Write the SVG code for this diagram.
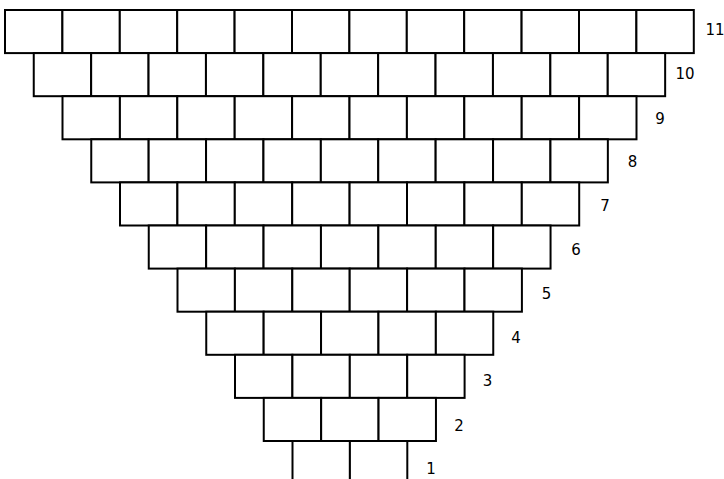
<svg xmlns="http://www.w3.org/2000/svg" width="724" height="479" viewBox="0 0 724 479">
<style>
.b{fill:#fff;stroke:#000;stroke-width:2}
.l{font-family:"DejaVu Sans",Verdana,sans-serif;font-size:15px;fill:#000;text-anchor:middle}
</style>
<defs>
<rect id="brick" class="b" width="57.4" height="43.1"/>
</defs>
<rect width="724" height="479" fill="#fff"/>
<g id="row11" transform="translate(5,10)">
<use href="#brick" x="0"/><use href="#brick" x="57.4"/><use href="#brick" x="114.8"/><use href="#brick" x="172.2"/><use href="#brick" x="229.6"/><use href="#brick" x="287"/><use href="#brick" x="344.4"/><use href="#brick" x="401.8"/><use href="#brick" x="459.2"/><use href="#brick" x="516.6"/><use href="#brick" x="574"/><use href="#brick" x="631.4"/>
</g>
<g id="row10" transform="translate(33.75,53.1)">
<use href="#brick" x="0"/><use href="#brick" x="57.4"/><use href="#brick" x="114.8"/><use href="#brick" x="172.2"/><use href="#brick" x="229.6"/><use href="#brick" x="287"/><use href="#brick" x="344.4"/><use href="#brick" x="401.8"/><use href="#brick" x="459.2"/><use href="#brick" x="516.6"/><use href="#brick" x="574"/>
</g>
<g id="row9" transform="translate(62.5,96.2)">
<use href="#brick" x="0"/><use href="#brick" x="57.4"/><use href="#brick" x="114.8"/><use href="#brick" x="172.2"/><use href="#brick" x="229.6"/><use href="#brick" x="287"/><use href="#brick" x="344.4"/><use href="#brick" x="401.8"/><use href="#brick" x="459.2"/><use href="#brick" x="516.6"/>
</g>
<g id="row8" transform="translate(91.25,139.3)">
<use href="#brick" x="0"/><use href="#brick" x="57.4"/><use href="#brick" x="114.8"/><use href="#brick" x="172.2"/><use href="#brick" x="229.6"/><use href="#brick" x="287"/><use href="#brick" x="344.4"/><use href="#brick" x="401.8"/><use href="#brick" x="459.2"/>
</g>
<g id="row7" transform="translate(120,182.4)">
<use href="#brick" x="0"/><use href="#brick" x="57.4"/><use href="#brick" x="114.8"/><use href="#brick" x="172.2"/><use href="#brick" x="229.6"/><use href="#brick" x="287"/><use href="#brick" x="344.4"/><use href="#brick" x="401.8"/>
</g>
<g id="row6" transform="translate(148.75,225.5)">
<use href="#brick" x="0"/><use href="#brick" x="57.4"/><use href="#brick" x="114.8"/><use href="#brick" x="172.2"/><use href="#brick" x="229.6"/><use href="#brick" x="287"/><use href="#brick" x="344.4"/>
</g>
<g id="row5" transform="translate(177.5,268.6)">
<use href="#brick" x="0"/><use href="#brick" x="57.4"/><use href="#brick" x="114.8"/><use href="#brick" x="172.2"/><use href="#brick" x="229.6"/><use href="#brick" x="287"/>
</g>
<g id="row4" transform="translate(206.25,311.7)">
<use href="#brick" x="0"/><use href="#brick" x="57.4"/><use href="#brick" x="114.8"/><use href="#brick" x="172.2"/><use href="#brick" x="229.6"/>
</g>
<g id="row3" transform="translate(235,354.8)">
<use href="#brick" x="0"/><use href="#brick" x="57.4"/><use href="#brick" x="114.8"/><use href="#brick" x="172.2"/>
</g>
<g id="row2" transform="translate(263.75,397.9)">
<use href="#brick" x="0"/><use href="#brick" x="57.4"/><use href="#brick" x="114.8"/>
</g>
<g id="row1" transform="translate(292.5,441)">
<use href="#brick" x="0"/><use href="#brick" x="57.4"/>
</g>
<g id="labels" class="l">
<text x="715" y="35">11</text>
<text x="685" y="79">10</text>
<text x="660" y="124">9</text>
<text x="632.5" y="166.5">8</text>
<text x="605" y="210.5">7</text>
<text x="576" y="255">6</text>
<text x="546.5" y="299">5</text>
<text x="516" y="342.5">4</text>
<text x="487.5" y="385.5">3</text>
<text x="459" y="430.5">2</text>
<text x="431" y="473.5">1</text>
</g>
</svg>
